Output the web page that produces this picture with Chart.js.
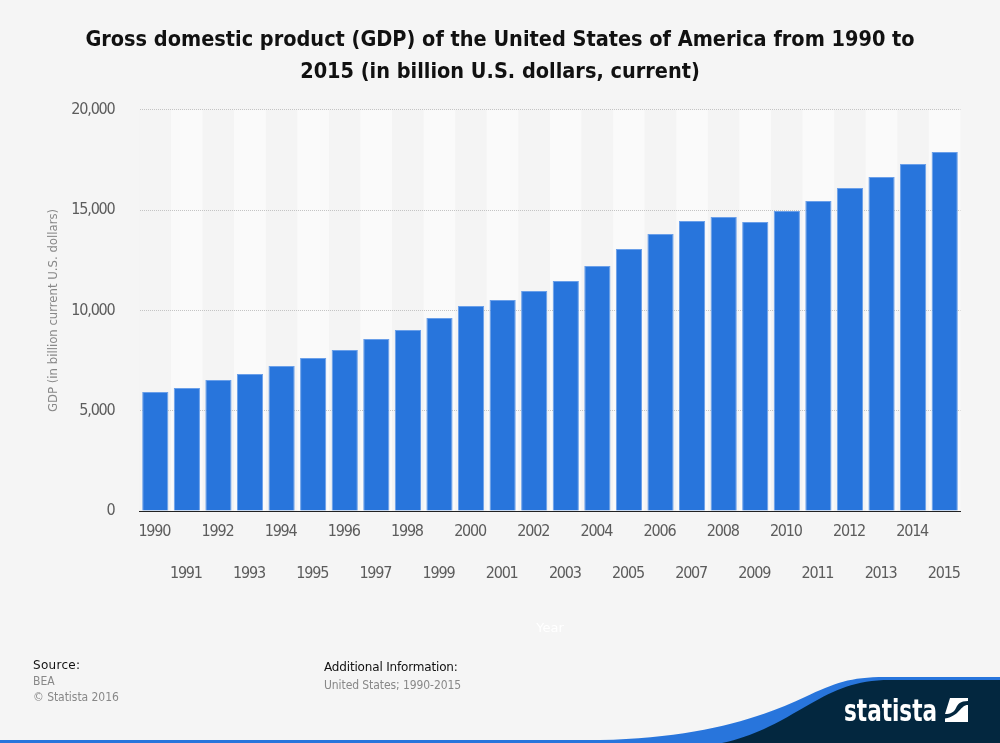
<!DOCTYPE html>
<html>
<head>
<meta charset="utf-8">
<script src="https://cdn.jsdelivr.net/npm/chart.js@4"></script>
<style>
  html, body { margin: 0; padding: 0; background: #f5f5f5; overflow: hidden; }
  #wrap { position: relative; width: 1000px; height: 743px; }
  #gdpChart { display: block; position: absolute; left: 0; top: 0; }
  .note { position: absolute; font: 12px 'DejaVu Sans Condensed', 'DejaVu Sans', sans-serif; color: #888; line-height: 16px; white-space: nowrap; }
  .note b { font-weight: normal; color: #111; font-family: 'DejaVu Sans', sans-serif; }
  #swoosh { position: absolute; left: 0; top: 0; }
</style>
</head>
<body>
<div id="wrap">
  <canvas id="gdpChart" width="1000" height="743"></canvas>
  <div class="note" style="left:33px;top:657px"><b style="letter-spacing:.3px">Source:</b><br>BEA<br><span style="letter-spacing:-.05px">© Statista 2016</span></div>
  <div class="note" style="left:324px;top:659px"><b style="letter-spacing:-.17px">Additional Information:</b></div>
  <div class="note" style="left:324px;top:677px;letter-spacing:-.08px">United States; 1990-2015</div>
  <svg id="swoosh" width="1000" height="743" viewBox="0 0 1000 743">
    <path d="M0 740 L600 740 C700 738 760 718 805 697 C835 683 850 677 885 677 L1000 677 L1000 743 L0 743 Z" fill="#2875dc"/>
    <path d="M722 743 C760 735 785 718 810 704 C835 690 855 680 890 680 L1000 680 L1000 743 Z" fill="#03273f"/>
    <text x="844" y="721" fill="#fff" font-family="'Liberation Sans Narrow','DejaVu Sans Condensed',sans-serif" font-weight="bold" font-size="31" textLength="93" lengthAdjust="spacingAndGlyphs">statista</text>
    <path d="M950 698 L968 698 L968 701 C960 701 958 704 956 708 C954 712 951 714 945 714 Z" fill="#fff"/>
    <path d="M968 705 C960 705 960 716 945 718.5 L945 722 L968 722 Z" fill="#fff"/>
  </svg>
</div>
<script>
const years = ['1990','1991','1992','1993','1994','1995','1996','1997','1998','1999','2000','2001','2002',
  '2003','2004','2005','2006','2007','2008','2009','2010','2011','2012','2013','2014','2015'];
const gdpValues = [5935,6135,6534,6833,7232,7631,8030,8579,9027,9626,10224,10524,10973,
  11471,12219,13067,13815,14464,14663,14414,14963,15461,16110,16658,17307,17905];
const yTicks = [0,5000,10000,15000,20000];
const titleLines = ['Gross domestic product (GDP) of the United States of America from 1990 to',
  '2015 (in billion U.S. dollars, current)'];

const condensed = "'DejaVu Sans Condensed', 'DejaVu Sans', sans-serif";

// Alternating column stripes behind the bars
const stripePlugin = {
  id: 'stripes',
  // title is centred on the whole page, not on the padded box
  afterLayout(chart) { chart.titleBlock.right = chart.width; },
  beforeDraw(chart) {
    const { ctx, chartArea, scales } = chart;
    const step = scales.x.getPixelForValue(1) - scales.x.getPixelForValue(0);
    years.forEach((y, i) => {
      ctx.fillStyle = i % 2 ? '#fafafa' : '#f4f4f4';
      const left = scales.x.getPixelForValue(i) - step / 2;
      ctx.fillRect(left, chartArea.top, step, chartArea.bottom - chartArea.top);
    });
  },
  // tick labels sit on z 1, so this tightens only them (reference digits are tall and narrow)
  afterDatasetsDraw(chart) { chart.ctx.letterSpacing = '-1.2px'; },
  afterDraw(chart) { chart.ctx.letterSpacing = '0px'; }
};

new Chart(document.getElementById('gdpChart'), {
  type: 'bar',
  data: {
    labels: years.map((y, i) => i % 2 ? ['', y] : [y]),
    datasets: [{
      label: 'GDP',
      data: gdpValues,
      backgroundColor: '#2875dc',
      borderColor: '#6a9fe9',
      borderWidth: { top: 1, left: 1, right: 1, bottom: 0 },
      categoryPercentage: 1,
      barPercentage: 0.83
    }]
  },
  options: {
    responsive: false,
    animation: false,
    layout: { padding: { left: 0, right: 39.5, top: 0, bottom: 0 } },
    plugins: {
      legend: { display: false },
      tooltip: { enabled: false },
      title: {
        display: true,
        text: titleLines,
        color: '#111',
        font: { family: condensed, size: 21.5, weight: 'bold', lineHeight: 1.488 },
        padding: { top: 24, bottom: 22 }
      }
    },
    scales: {
      x: {
        grid: { display: false },
        border: { color: '#222', width: 1 },
        ticks: {
          autoSkip: false, maxRotation: 0, minRotation: 0, padding: -8, z: 1, labelOffset: -1,
          color: '#5c5c5c',
          font: { family: condensed, size: 16, lineHeight: 2.625 }
        },
        title: {
          display: true, text: 'Year', color: '#fff',
          font: { family: "'DejaVu Sans', sans-serif", size: 13 },
          padding: { top: 0, bottom: 107 }
        },
        afterFit(scale) { scale.height = 232; }
      },
      y: {
        min: 0,
        max: 20000,
        afterBuildTicks(scale) { scale.ticks = yTicks.map(v => ({ value: v })); },
        grid: { color: '#c4c4c4', drawTicks: false },
        border: { display: false, dash: [1, 1] },
        ticks: {
          padding: 25, z: 1,
          color: '#5c5c5c',
          font: { family: condensed, size: 16 },
          callback: v => v.toLocaleString('en-US')
        },
        title: {
          display: true, text: 'GDP (in billion current U.S. dollars)', color: '#888',
          font: { family: condensed, size: 13 },
          padding: { top: 46, bottom: 0 }
        },
        afterFit(scale) { scale.width = 139.5; }
      }
    }
  },
  plugins: [stripePlugin]
});
</script>
</body>
</html>
